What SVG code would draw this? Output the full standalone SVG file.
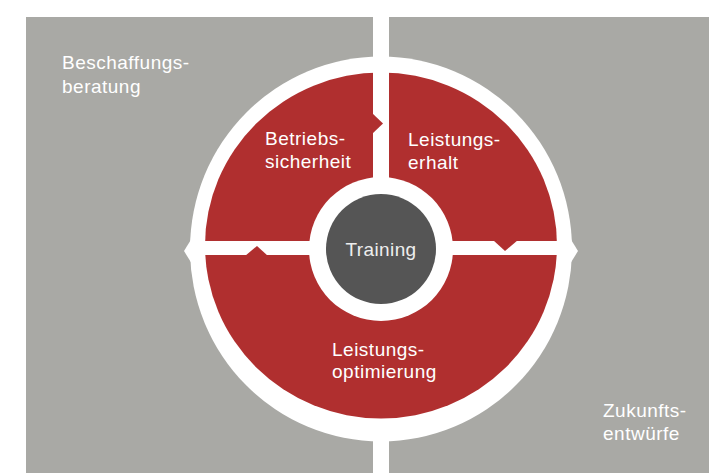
<svg xmlns="http://www.w3.org/2000/svg" width="709" height="473" viewBox="0 0 709 473">
  <style>
    .panel { fill: #a9a9a5; }
    .red { fill: #b02f2f; }
    .white { fill: #ffffff; }
    .lbl { font-family: "Liberation Sans", Arial, sans-serif; font-size: 19px; fill: #ffffff; letter-spacing: 0.5px; }
    .center { font-family: "Liberation Sans", Arial, sans-serif; font-size: 19px; fill: #eeeeee; text-anchor: middle; letter-spacing: 0.4px; }
  </style>
  <rect width="709" height="473" fill="#ffffff"/>
  <g id="beschaffungsberatung">
    <rect class="panel" x="26" y="17" width="347" height="456"/>
    <text class="lbl" x="62" y="69">Beschaffungs-</text>
    <text class="lbl" x="62" y="93">beratung</text>
  </g>
  <g id="zukunftsentwuerfe">
    <rect class="panel" x="389" y="17" width="320" height="456"/>
  </g>
  <g id="ring">
    <ellipse class="white" cx="381" cy="249" rx="191" ry="192.5"/>
    <polygon class="white" points="192,238 184,251 192,264"/>
    <polygon class="white" points="570,238 578,251 570,264"/>
  </g>
  <g id="quadrants">
    <ellipse class="red" cx="381" cy="245.5" rx="176" ry="173"/>
  </g>
  <g id="connectors">
    <rect class="white" x="195" y="241" width="372" height="14"/>
    <rect class="white" x="373" y="60" width="16" height="190"/>
  </g>
  <g id="betriebssicherheit">
    <polygon class="red" points="372,113 383,123.5 372,134"/>
    <text class="lbl" x="265" y="145">Betriebs-</text>
    <text class="lbl" x="265" y="168">sicherheit</text>
  </g>
  <g id="leistungserhalt">
    <polygon class="red" points="493,240 505,251 518,240"/>
    <text class="lbl" x="408" y="145.5">Leistungs-</text>
    <text class="lbl" x="408" y="169">erhalt</text>
  </g>
  <g id="leistungsoptimierung">
    <polygon class="red" points="245,256 257,246 268,256"/>
    <text class="lbl" x="332" y="355.5">Leistungs-</text>
    <text class="lbl" x="332" y="378">optimierung</text>
  </g>
  <g id="training">
    <circle class="white" cx="381" cy="249" r="72"/>
    <circle cx="381" cy="249" r="55" fill="#555555"/>
    <text class="center" x="381" y="256">Training</text>
  </g>
  <g id="zukunftsentwuerfe-label">
    <text class="lbl" x="603" y="417">Zukunfts-</text>
    <text class="lbl" x="603" y="440">entwürfe</text>
  </g>
</svg>
